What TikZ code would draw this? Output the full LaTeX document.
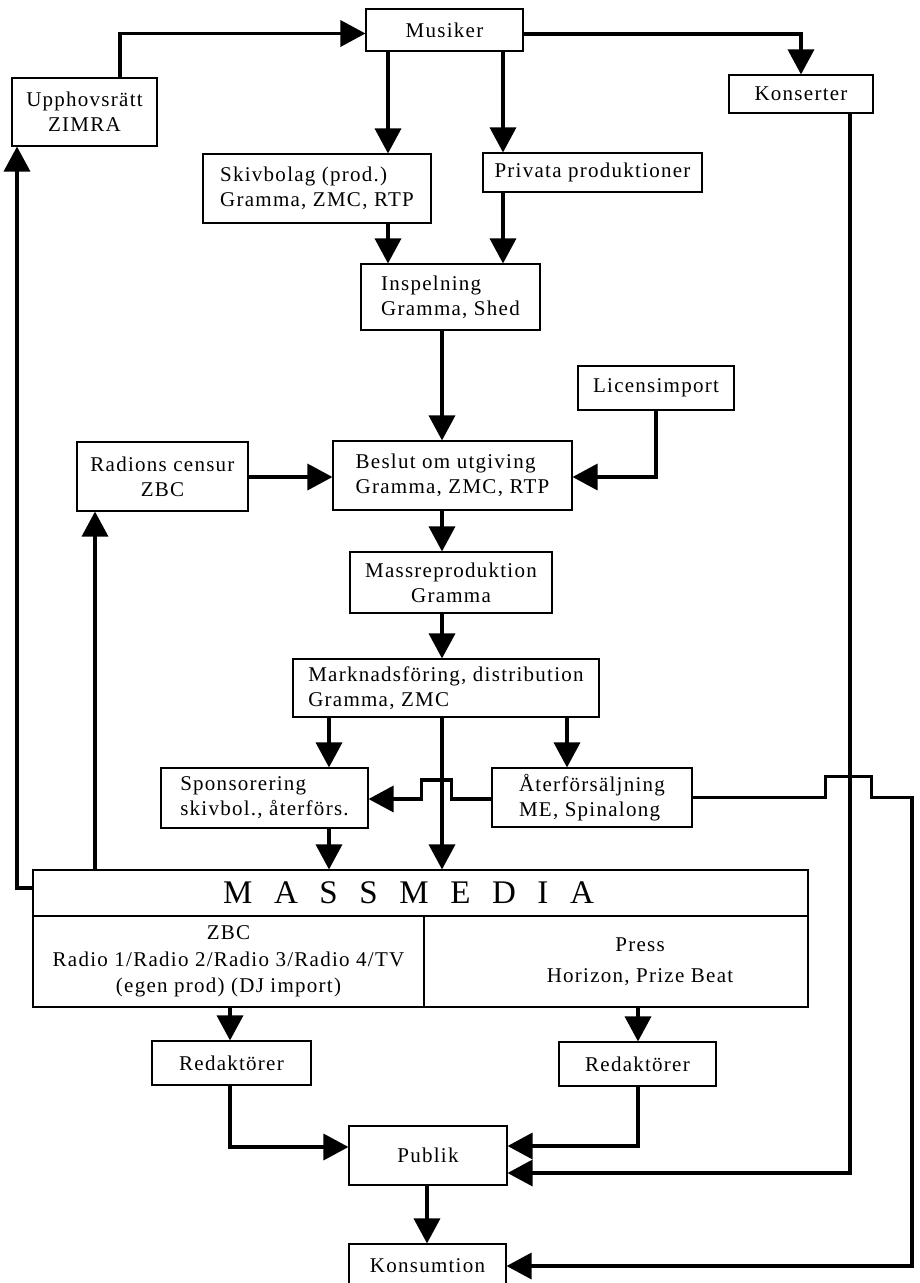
\documentclass[tikz,border=0pt]{standalone}
\usepackage{fontspec}
\setmainfont{Liberation Serif}[LetterSpace=6]
\usetikzlibrary{arrows.meta,calc}
\begin{document}
\begin{tikzpicture}[x=1pt,y=-1pt,
  box/.style={draw,line width=1.1pt,inner sep=2pt,align=center,font=\fontsize{21}{25}\selectfont},
  boxl/.style={box,align=left},
  wh/.style 2 args={minimum width=#1pt,minimum height=#2pt},
  arr/.style={line width=3.4pt,-{Triangle[width=26pt,length=25pt]}}]
\useasboundingbox (0,0) rectangle (919,1283);
\fill[white] (0,0) rectangle (919,1283);
% nodes
\node[box,wh={157}{42}] (musiker) at (444.5,30) {Musiker};
\node[box,wh={145}{68}] (upph) at (84.5,112) {Upphovsrätt\\ZIMRA};
\node[box,wh={144}{38}] (kons) at (801,94) {Konserter};
\node[boxl,wh={228}{69}] (skiv) at (317,188.5) {Skivbolag (prod.)\\Gramma, ZMC, RTP};
\node[box,wh={219}{39}] (priv) at (592.5,172.5) {Privata produktioner};
\node[boxl,wh={179}{66}] (insp) at (450.5,297) {Inspelning\\Gramma, Shed};
\node[box,wh={156}{44}] (lic) at (656,388) {Licensimport};
\node[box,wh={171}{69}] (radio) at (162.5,476.5) {Radions censur\\ZBC};
\node[boxl,wh={239}{69}] (beslut) at (452.5,475.5) {Beslut om utgiving\\Gramma, ZMC, RTP};
\node[box,wh={202}{61}] (mass) at (451,582.5) {Massreproduktion\\Gramma};
\node[boxl,wh={306}{58}] (mark) at (446,688) {Marknadsföring, distribution\\Gramma, ZMC};
\node[boxl,wh={207}{60}] (spons) at (264.5,798) {Sponsorering\\skivbol., återförs.};
\node[boxl,wh={200}{59}] (ater) at (592,797.5) {Återförsäljning\\ME, Spinalong};
\node[box,wh={775}{46},font={\fontsize{33}{36}\selectfont}] (mmtitle) at (420.5,893) {\spaceskip=21.6pt M A S S M E D I A\hspace*{24pt}};
\node[box,wh={391}{91},font={\fontsize{21}{26.5}\selectfont}] (mmzbc) at (228.5,961.5) {ZBC\\Radio 1/Radio 2/Radio 3/Radio 4/TV\\(egen prod) (DJ import)};
\node[box,wh={384}{91},font={\fontsize{21}{31}\selectfont}] (mmpress) at (616,961.5) {\hspace*{48pt}Press\\\hspace*{48pt}Horizon, Prize Beat};
\node[box,wh={159}{44}] (redL) at (231.5,1063) {Redaktörer};
\node[box,wh={157}{44}] (redR) at (637.5,1064) {Redaktörer};
\node[box,wh={158}{59}] (publik) at (428,1155.5) {Publik};
\node[box,wh={157}{44}] (konsum) at (427.5,1266) {Konsumtion};
% column coordinates
\coordinate (c388) at (388,0);
\coordinate (c503) at (503,0);
\coordinate (c442) at (442,0);
\coordinate (c329) at (329,0);
\coordinate (c567) at (567,0);
\coordinate (c93) at (95,0);
\coordinate (c16) at (17,0);
\coordinate (c230) at (230,0);
\coordinate (c638) at (638,0);
\coordinate (c656) at (656,0);
\coordinate (c850) at (850,0);
\coordinate (c912) at (912,0);
\coordinate (c427) at (427,0);
% connectors
\draw[arr] ($(upph.north)+(35.5,0)$) |- ($(musiker.west)+(0,3.5)$);
\draw[arr] ($(musiker.east)+(0,4)$) -| (kons.north);
\draw[arr] (musiker.south -| c388) -- (skiv.north -| c388);
\draw[arr] (musiker.south -| c503) -- (priv.north -| c503);
\draw[arr] (skiv.south -| c388) -- (insp.north -| c388);
\draw[arr] (priv.south -| c503) -- (insp.north -| c503);
\draw[arr] (insp.south -| c442) -- (beslut.north -| c442);
\draw[arr] (lic.south -| c656) |- ($(beslut.east)+(0,1.5)$);
\draw[arr] ($(radio.east)+(0,0.5)$) -- ($(beslut.west)+(0,1.5)$);
\draw[arr] (beslut.south -| c442) -- (mass.north -| c442);
\draw[arr] (mass.south -| c442) -- (mark.north -| c442);
\draw[arr] (mark.south -| c329) -- (spons.north -| c329);
\draw[arr] (mark.south -| c567) -- (ater.north -| c567);
\draw[arr] (mark.south -| c442) -- (mmtitle.north -| c442);
\draw[arr] ($(ater.west)+(0,1.5)$) -- ++(-40,0) -- ++(0,-19) -- ++(-30,0) -- ++(0,19) -- ($(spons.east)+(0,1)$);
\draw[arr] (ater.east) -- ++(133,0) -- ++(0,-21) -- ++(46,0) -- ++(0,21) -- (ater.east -| c912) |- (konsum.east);
\draw[arr] (kons.south -| c850) |- ($(publik.east)+(0,17.5)$);
\draw[arr] (spons.south -| c329) -- (mmtitle.north -| c329);
\draw[arr] ($(mmtitle.west)+(0,-5)$) -| (upph.south -| c16);
\draw[arr] (mmtitle.north -| c93) -- (radio.south -| c93);
\draw[arr] (mmzbc.south -| c230) -- (redL.north -| c230);
\draw[arr] (mmpress.south -| c638) -- (redR.north -| c638);
\draw[arr] (redL.south -| c230) |- ($(publik.west)+(0,-8.5)$);
\draw[arr] (redR.south -| c638) |- ($(publik.east)+(0,-9.5)$);
\draw[arr] (publik.south -| c427) -- (konsum.north -| c427);
\end{tikzpicture}
\end{document}
